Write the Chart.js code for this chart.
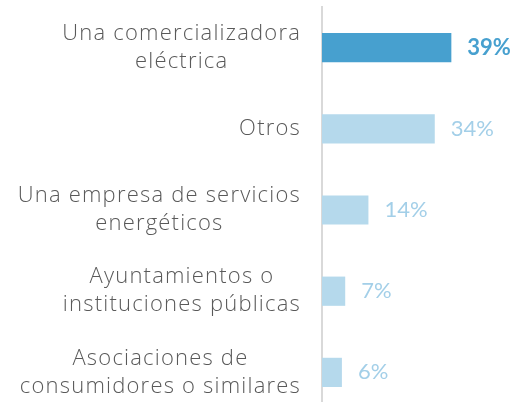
<!DOCTYPE html>
<html>
<head>
<meta charset="utf-8">
<script src="https://cdn.jsdelivr.net/npm/chart.js@4/dist/chart.umd.min.js"></script>
<style>
  html, body { margin: 0; padding: 0; background: #fff; overflow: hidden; }
  #wrap { width: 521px; height: 413px; }
</style>
</head>
<body>
<div id="wrap"><canvas id="myChart"></canvas></div>
<script>
const categories = [
  ['Una comercializadora', 'eléctrica'],
  ['Otros'],
  ['Una empresa de servicios', 'energéticos'],
  ['Ayuntamientos o', 'instituciones públicas'],
  ['Asociaciones de', 'consumidores o similares']
];
const values = [39, 34, 14, 7, 6];
const valueLabels = ['39%', '34%', '14%', '7%', '6%'];

const darkBlue = '#47a0cf';
const lightBlue = '#b5d9ec';
const barColors = values.map((v, i) => i === 0 ? darkBlue : lightBlue);
const textColors = values.map((v, i) => i === 0 ? darkBlue : '#a3cfe8');

const labelFont = '300 22px "Open Sans"';

// draws the category labels (right-aligned block, centred lines) and the value labels
const labelsPlugin = {
  id: 'labelsPlugin',
  afterDraw: (chart) => {
    const ctx = chart.ctx;
    const yScale = chart.scales.y;
    const meta = chart.getDatasetMeta(0);
    const lineH = 28;
    ctx.save();
    ctx.textBaseline = 'middle';

    ctx.font = labelFont;
    ctx.letterSpacing = '1.2px';
    ctx.fillStyle = '#595959';
    ctx.textAlign = 'center';
    categories.forEach((lines, i) => {
      const y = yScale.getPixelForTick(i);
      const w = Math.max(...lines.map(l => ctx.measureText(l).width));
      const cx = chart.chartArea.left - 21 - w / 2;
      const top = y - (lines.length - 1) * lineH / 2;
      lines.forEach((l, j) => ctx.fillText(l, cx, top + j * lineH));
    });

    ctx.letterSpacing = '0px';
    ctx.textAlign = 'left';
    meta.data.forEach((bar, i) => {
      ctx.font = (i === 0 ? 'bold ' : '') + '22px Lato';
      ctx.fillStyle = textColors[i];
      ctx.fillText(valueLabels[i], bar.x + 16, bar.y);
    });
    ctx.restore();
  }
};

const ctx = document.getElementById('myChart').getContext('2d');
new Chart(ctx, {
  type: 'bar',
  data: {
    labels: categories,
    datasets: [{
      data: values,
      backgroundColor: barColors,
      borderWidth: 0,
      categoryPercentage: 1,
      barPercentage: 0.36
    }]
  },
  options: {
    indexAxis: 'y',
    responsive: true,
    maintainAspectRatio: false,
    animation: false,
    layout: {
      padding: { top: 7, right: 0, bottom: 0, left: 0 }
    },
    scales: {
      x: {
        display: false,
        min: 0,
        max: 60
      },
      y: {
        grid: { display: false, drawTicks: false },
        border: { display: true, color: '#d9d9d9', width: 2 },
        ticks: { display: false },
        afterFit: (scale) => { scale.width = 322; }
      }
    },
    plugins: {
      legend: { display: false },
      tooltip: { enabled: false }
    }
  },
  plugins: [labelsPlugin]
});
</script>
</body>
</html>
